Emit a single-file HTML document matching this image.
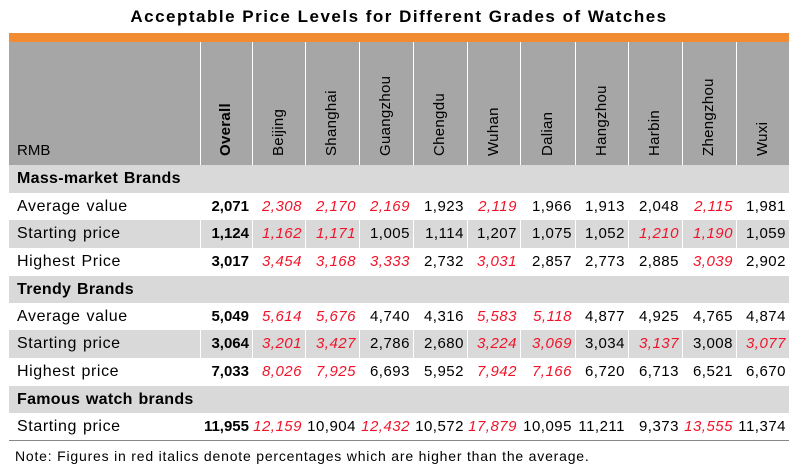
<!DOCTYPE html>
<html><head><meta charset="utf-8"><style>
body{margin:0;width:798px;height:475px;background:#fff;font-family:"Liberation Sans",Arial,sans-serif;position:relative;overflow:hidden}
.a{position:absolute;box-sizing:border-box}
.title{left:0;width:798px;top:7px;text-align:center;font-weight:bold;font-size:17px;letter-spacing:1.5px;color:#000}
.cell{font-size:15px;line-height:27px;text-align:right;padding-right:3px;color:#000;white-space:nowrap;letter-spacing:0.5px}
.lab{font-size:16px;letter-spacing:0.6px;word-spacing:1px;text-align:left}
.red{color:#f0142a;font-style:italic}
.hd{font-size:15px;color:#000;white-space:nowrap;transform-origin:0 0;transform:rotate(-90deg);letter-spacing:0.3px}
</style></head><body>
<div class="a title">Acceptable Price Levels for Different Grades of Watches</div>
<div class="a" style="left:9px;top:33px;width:780px;height:9px;background:#f28c32"></div>
<div class="a" style="left:9px;top:42px;width:780px;height:123px;background:#a6a6a6"></div>
<div class="a" style="left:17px;top:142px;font-size:15px">RMB</div>
<div id="t"></div>
<div class="a" style="left:9px;top:440px;width:780px;height:1px;background:#888"></div>
<div class="a" style="left:15px;top:448px;font-size:14px;letter-spacing:0.8px">Note: Figures in red italics denote percentages which are higher than the average.</div>
<script>
const cities=["Overall","Beijing","Shanghai","Guangzhou","Chengdu","Wuhan","Dalian","Hangzhou","Harbin","Zhengzhou","Wuxi"];
const rowLabels=["Mass-market  Brands","Average value","Starting price","Highest Price","Trendy  Brands","Average value","Starting price","Highest price","Famous  watch brands","Starting price"];
const rowValues=[null,
["2,071","2,308","2,170","2,169","1,923","2,119","1,966","1,913","2,048","2,115","1,981"],
["1,124","1,162","1,171","1,005","1,114","1,207","1,075","1,052","1,210","1,190","1,059"],
["3,017","3,454","3,168","3,333","2,732","3,031","2,857","2,773","2,885","3,039","2,902"],
null,
["5,049","5,614","5,676","4,740","4,316","5,583","5,118","4,877","4,925","4,765","4,874"],
["3,064","3,201","3,427","2,786","2,680","3,224","3,069","3,034","3,137","3,008","3,077"],
["7,033","8,026","7,925","6,693","5,952","7,942","7,166","6,720","6,713","6,521","6,670"],
null,
["11,955","12,159","10,904","12,432","10,572","17,879","10,095","11,211","9,373","13,555","11,374"]];
const redFlags=[null,
[0,1,1,1,0,1,0,0,0,1,0],[0,1,1,0,0,0,0,0,1,1,0],[0,1,1,1,0,1,0,0,0,1,0],null,
[0,1,1,0,0,1,1,0,0,0,0],[0,1,1,0,0,1,1,0,1,0,1],[0,1,1,0,0,1,1,0,0,0,0],null,
[0,1,0,1,0,1,0,0,0,1,0]];
const colX=[200,252,305,359,413,467,520,575,628,682,736,789];
const rowY=[165,193,220,248,276,303,330,358,386,413,440];
const grayRows=[0,2,4,6,8];
const T=document.getElementById('t');
function mk(cls,css,txt){const d=document.createElement('div');d.className='a '+cls;d.style.cssText=css;if(txt!=null)d.textContent=txt;T.appendChild(d);return d;}
cities.forEach((c,i)=>{
 const w=colX[i+1]-colX[i];
 const h=mk('hd','left:'+(colX[i]+w/2-9)+'px;top:156px;'+(i==0?'font-weight:bold;':''),c);
 
 
});
rowLabels.forEach((lab,r)=>{
 const y=rowY[r],h=rowY[r+1]-y;
 if(grayRows.includes(r)){
  const b=mk('','left:9px;top:'+y+'px;width:780px;height:'+h+'px;background:#d9d9d9');
  
  
 }
 const sec=rowValues[r]==null;
 const l=mk('cell lab','left:17px;top:'+y+'px;'+(sec?'font-weight:bold;letter-spacing:0.3px;':''),lab);
 
 
 if(!sec){
  rowValues[r].forEach((v,i)=>{
   const red=redFlags[r][i];
   const c=mk('cell'+(red?' red':''),'left:'+colX[i]+'px;width:'+(colX[i+1]-colX[i])+'px;top:'+y+'px;'+(i==0?'font-weight:bold;letter-spacing:0;':''),v);
   
   
  });
 }
});
for(let i=0;i<colX.length-1;i++){
 const d=mk('','left:'+colX[i]+'px;top:42px;width:1px;height:123px;background:#fff');
 
 
 [2,6].forEach(r=>{
  const e=mk('','left:'+colX[i]+'px;top:'+rowY[r]+'px;width:1px;height:'+(rowY[r+1]-rowY[r])+'px;background:#fff');
  
  
 });
}
</script>
</body></html>
